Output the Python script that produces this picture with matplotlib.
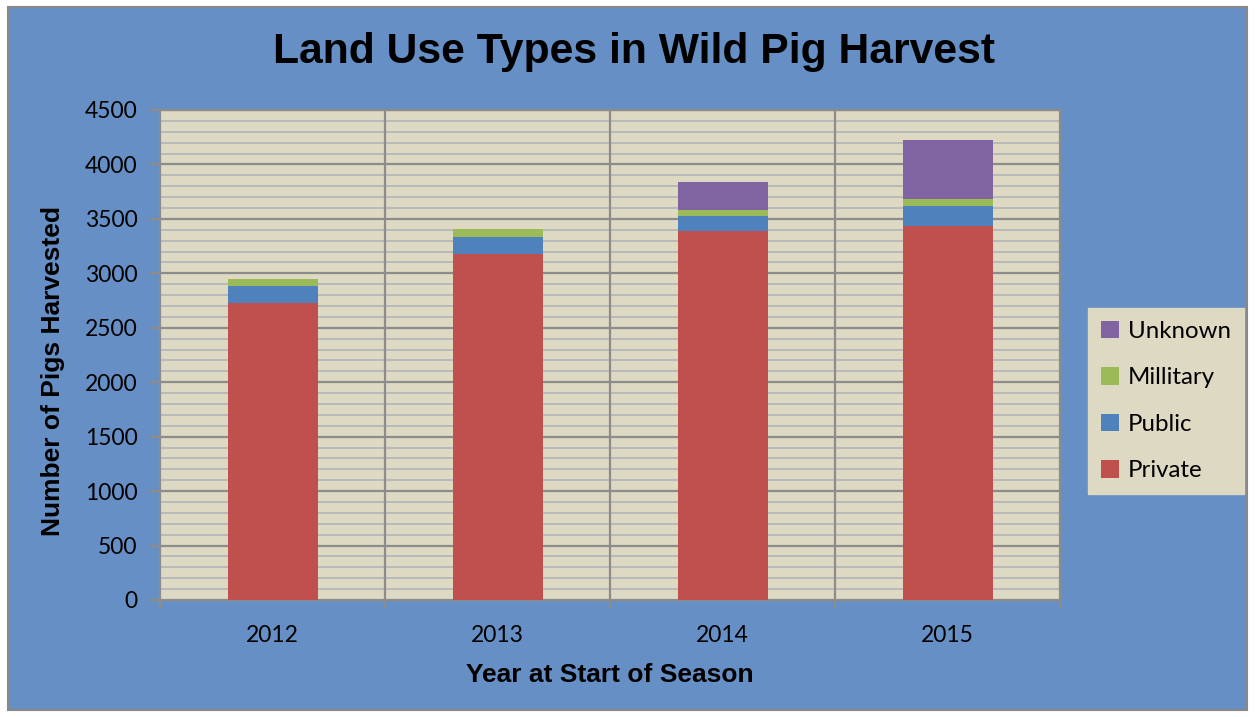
import matplotlib.pyplot as plt
import numpy as np
from matplotlib.patches import Rectangle

years = ['2012', '2013', '2014', '2015']
private = [2730, 3180, 3390, 3437]
public = [154, 157, 137, 184]
military = [64, 67, 56, 65]
unknown = [0, 4, 257, 536]

series_names = ['Private', 'Public', 'Millitary', 'Unknown']
series_colors = ['#C0504D', '#4F81BD', '#9BBB59', '#8064A2']

bg_blue = '#6690C5'
tan = '#DDD9C3'
tick_font = 'Lato'

fig = plt.figure(figsize=(12.55, 7.17), dpi=100)
fig.patch.set_facecolor('white')
fig.patches.append(Rectangle((8 / 1255, 1 - 710 / 717), 1239 / 1255, 703 / 717,
                             transform=fig.transFigure, facecolor=bg_blue,
                             edgecolor='#888888', linewidth=1.5, zorder=-10))

ax = fig.add_axes([160 / 1255, 1 - 600 / 717, 900 / 1255, 490 / 717])
ax.set_facecolor(tan)

x = np.arange(len(years))
bottom = np.zeros(len(years))
handles = []
for name, vals, col in zip(series_names, [private, public, military, unknown], series_colors):
    b = ax.bar(x, vals, width=0.4, bottom=bottom, color=col, label=name, zorder=3)
    handles.append(b)
    bottom += np.array(vals)

ax.set_xlim(-0.5, 3.5)
ax.set_ylim(0, 4500)

# grid lines
for v in range(100, 4500, 100):
    if v % 500 == 0:
        ax.axhline(v, color='#8C8C8C', lw=1.6, zorder=1)
    else:
        ax.axhline(v, color='#B9B9B9', lw=1.4, zorder=1)
ax.axhline(4500, color='#8C8C8C', lw=1.6, zorder=1)
for v in [0.5, 1.5, 2.5]:
    ax.axvline(v, color='#8C8C8C', lw=1.6, zorder=1)

for s in ax.spines.values():
    s.set_color('#8C8C8C')
    s.set_linewidth(1.6)

ax.set_yticks(np.arange(0, 4501, 500))
ax.set_yticklabels([str(v) for v in range(0, 4501, 500)], fontsize=16.5, family=tick_font)
ax.set_xticks(x)
ax.set_xticklabels(years, fontsize=16.5, family=tick_font)
ax.tick_params(axis='x', length=0, pad=18)
ax.set_xticks([-0.5, 0.5, 1.5, 2.5, 3.5], minor=True)
ax.tick_params(axis='x', which='minor', length=6, color='#8C8C8C', width=1.6)
ax.tick_params(axis='y', length=8, color='#8C8C8C', width=1.6, pad=8)

ax.set_ylabel('Number of Pigs Harvested', fontsize=19, fontweight='bold',
              family='Liberation Sans')
ax.yaxis.set_label_coords(-0.105, 0.467)
ax.set_xlabel('Year at Start of Season', fontsize=19, fontweight='bold',
              family='Liberation Sans')
ax.xaxis.set_label_coords(0.5, -0.128)

fig.text(634 / 1255, 1 - 52 / 717, 'Land Use Types in Wild Pig Harvest', fontsize=30.7,
         fontweight='bold', family='Liberation Sans', ha='center', va='center')

leg = fig.legend(handles[::-1], series_names[::-1], loc='center',
                 bbox_to_anchor=(1166 / 1255, 1 - 401 / 717), frameon=True,
                 prop={'family': tick_font, 'size': 17.3}, handlelength=0.75,
                 handleheight=0.75, handletextpad=0.35, labelspacing=1.05,
                 borderpad=0.55, borderaxespad=0, fancybox=False)
leg.get_frame().set_facecolor(tan)
leg.get_frame().set_edgecolor(tan)
leg.get_frame().set_alpha(1)

fig.savefig('out.png', dpi=100)
